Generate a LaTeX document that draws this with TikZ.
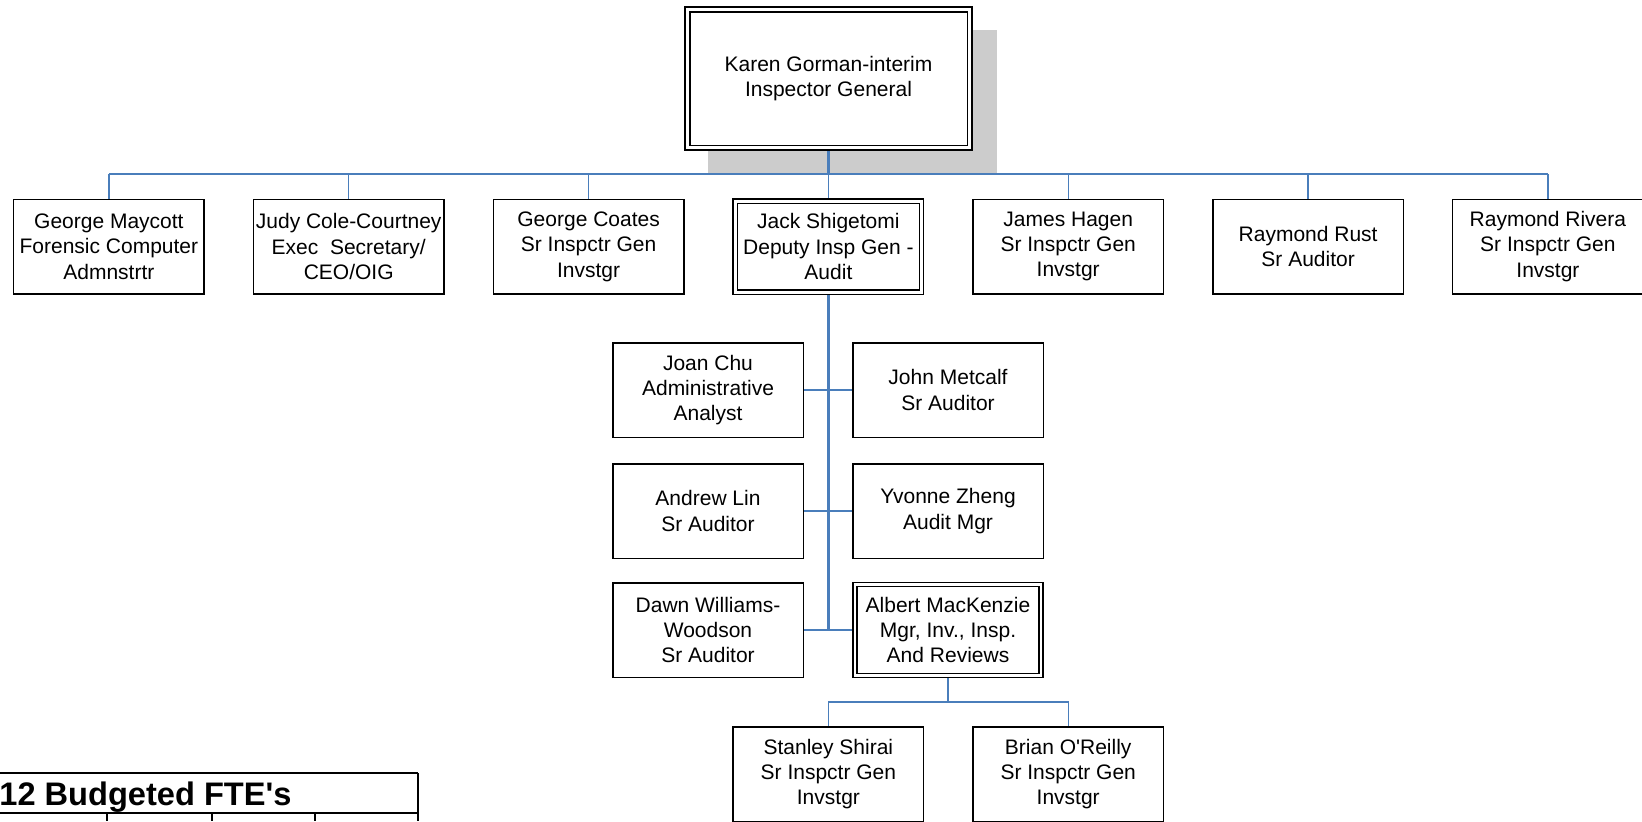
\documentclass[tikz,border=0pt]{standalone}
\usepackage{fontspec}
\newfontfamily\chartfont{Liberation Sans}
\usetikzlibrary{backgrounds}

\definecolor{connblue}{RGB}{74,126,187}
\definecolor{shadowgray}{RGB}{204,204,204}

\tikzset{
  box/.style={draw, fill=white, line width=0.75pt, align=center, inner sep=0pt,
    minimum width=95.25pt, minimum height=47.25pt,
    font=\chartfont\fontsize{10.5pt}{12.7pt}\selectfont},
  dbox/.style={box, double, line width=0.85pt, double distance=1.2pt,
    minimum width=93.1pt, minimum height=45.5pt},
  igbox/.style={dbox, line width=0.95pt, double distance=1.4pt,
    minimum width=141.3pt, minimum height=69.3pt},
  conn/.style={draw=connblue, line width=0.7pt},
  trunk/.style={draw=connblue, line width=1.15pt},
  tableline/.style={line width=0.8pt},
  ftetitle/.style={inner sep=0pt, font=\chartfont\bfseries\fontsize{16.3pt}{18pt}\selectfont}
}

\begin{document}
\begin{tikzpicture}[x=0.5pt,y=-0.5pt]
  \clip (0,0) rectangle (1642,821);

  % top
  \node[igbox] (ig) at (828.5,78.5) {Karen Gorman-interim\\Inspector General};

  % direct reports
  \node[box] (maycott) at (108.9,246.5) {George Maycott\\Forensic Computer\\Admnstrtr};
  \node[box] (judy) at (348.7,246.5) {Judy Cole-Courtney\\Exec\ \ Secretary/\\CEO/OIG};
  \node[box] (coates) at (588.6,246.5) {George Coates\\Sr Inspctr Gen\\Invstgr};
  \node[dbox] (jack) at (828.4,246.8) {Jack Shigetomi\\Deputy Insp Gen -\\Audit};
  \node[box] (hagen) at (1068.2,246.5) {James Hagen\\Sr Inspctr Gen\\Invstgr};
  \node[box] (rust) at (1308.1,246.5) {Raymond Rust\\Sr Auditor};
  \node[box] (rivera) at (1547.9,246.5) {Raymond Rivera\\Sr Inspctr Gen\\Invstgr};

  % audit group
  \node[box] (joan) at (708,390) {Joan Chu\\Administrative\\Analyst};
  \node[box] (metcalf) at (948,390) {John Metcalf\\Sr Auditor};
  \node[box] (lin) at (708,511) {Andrew Lin\\Sr Auditor};
  \node[box] (zheng) at (948,511) {Yvonne Zheng\\Audit Mgr};
  \node[box] (dawn) at (708,630) {Dawn Williams-\\Woodson\\Sr Auditor};
  \node[dbox] (albert) at (948,630) {Albert MacKenzie\\Mgr, Inv., Insp.\\And Reviews};

  % investigations
  \node[box] (shirai) at (828.4,774) {Stanley Shirai\\Sr Inspctr Gen\\Invstgr};
  \node[box] (oreilly) at (1068.2,774) {Brian O'Reilly\\Sr Inspctr Gen\\Invstgr};

  \coordinate (topbus) at (828.5,174);
  \coordinate (subbus) at (948,702);

  \begin{scope}[on background layer]
    \fill[shadowgray] (708,30) rectangle (997,175);

    \draw[trunk] (ig.south) -- (ig.south |- topbus);
    \draw[trunk] (maycott.north |- topbus) -- (rivera.north |- topbus);
    \draw[conn] (maycott.north |- topbus) -- (maycott.north);
    \draw[conn] (judy.north |- topbus) -- (judy.north);
    \draw[conn] (coates.north |- topbus) -- (coates.north);
    \draw[conn] (jack.north |- topbus) -- (jack.north);
    \draw[conn] (hagen.north |- topbus) -- (hagen.north);
    \draw[conn] (rust.north |- topbus) -- (rust.north);
    \draw[conn] (rivera.north |- topbus) -- (rivera.north);

    \draw[trunk] (jack.south) -- (jack.south |- dawn.east);
    \draw[conn] (joan.east) -- (metcalf.west);
    \draw[conn] (lin.east) -- (zheng.west);
    \draw[conn] (dawn.east) -- (albert.west);

    \draw[conn] (albert.south) -- (subbus);
    \draw[conn] (subbus) -| (shirai.north);
    \draw[conn] (subbus) -| (oreilly.north);
  \end{scope}

  % FTE table
  \node[ftetitle, anchor=base west] (fte) at (-1,805) {12 Budgeted FTE's};
  \draw[tableline] (0,773) -- (418,773);
  \draw[tableline] (0,813) -- (418,813);
  \draw[tableline, line width=1pt] (418,773) -- (418,821);
  \draw[tableline] (107,813) -- (107,821);
  \draw[tableline] (212,813) -- (212,821);
  \draw[tableline] (315,813) -- (315,821);
\end{tikzpicture}
\end{document}
